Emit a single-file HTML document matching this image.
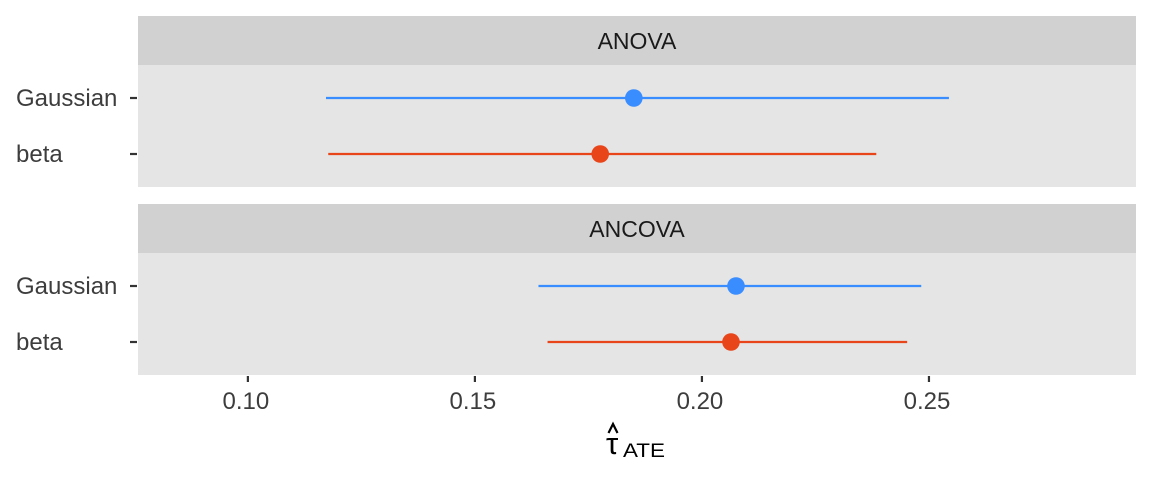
<!DOCTYPE html>
<html><head><meta charset="utf-8"><style>
body{margin:0;background:#fff;}
svg text{font-family:"Liberation Sans",sans-serif;}
</style></head><body>
<svg id="chart" width="1152" height="480" xmlns="http://www.w3.org/2000/svg"></svg>
<script>
const panels = ["ANOVA","ANCOVA"];
const models = ["Gaussian","beta"];
const estimates = [[0.185,0.1776],[0.2075,0.2064]];
const lowers = [[0.1172,0.1177],[0.164,0.166]];
const uppers = [[0.2544,0.2384],[0.2483,0.2452]];
const xTicks = [0.10,0.15,0.20,0.25];
const xTickLabels = ["0.10","0.15","0.20","0.25"];
const colors = ["#3A8DFF","#E8461A"];

const svg = document.getElementById('chart');
const NS = "http://www.w3.org/2000/svg";
const x0 = 138, x1 = 1136, dMin = 0.0758, dMax = 0.2956;
const xs = v => x0 + (v - dMin) / (dMax - dMin) * (x1 - x0);
const panelTop = [16, 204];
function mk(tag, attrs, parent){const e=document.createElementNS(NS,tag);for(const k in attrs)e.setAttribute(k,attrs[k]);(parent||svg).appendChild(e);return e;}

panels.forEach((p,pi)=>{
  const t = panelTop[pi];
  const g = mk('g',{});
  
  
  const strip = mk('rect',{x:x0,y:t,width:x1-x0,height:49,fill:"#D1D1D1"},g);
  
  
  const st = mk('text',{x:(x0+x1)/2,y:t+33,'text-anchor':'middle','font-size':23,fill:"#1A1A1A"},g);
  st.textContent = p;
  
  
  const bg = mk('rect',{x:x0,y:t+49,width:x1-x0,height:122,fill:"#E5E5E5"},g);
  
  
  const rowY = [t+49+33, t+49+89];
  models.forEach((m,mi)=>{
    const y = rowY[mi];
    mk('line',{x1:130,x2:137,y1:y,y2:y,stroke:"#333",'stroke-width':2.2},g);
    const lab = mk('text',{x:16,y:y+8,'text-anchor':'start','font-size':24,fill:"#3D3D3D"},g);
    lab.textContent = m;
    
    
    const ci = mk('line',{x1:xs(lowers[pi][mi]),x2:xs(uppers[pi][mi]),y1:y,y2:y,stroke:colors[mi],'stroke-width':2.2},g);
    
    
    const pt = mk('circle',{cx:xs(estimates[pi][mi]),cy:y,r:8.8,fill:colors[mi]},g);
    
    
  });
});
xTicks.forEach((v,i)=>{
  mk('line',{x1:xs(v),x2:xs(v),y1:376,y2:382,stroke:"#333",'stroke-width':2.2});
  const tl = mk('text',{x:xs(v)-2,y:409,'text-anchor':'middle','font-size':24,fill:"#3D3D3D"});
  tl.textContent = xTickLabels[i];
  
  
});
</script>
<svg width="1152" height="480" style="position:absolute;left:0;top:0" xmlns="http://www.w3.org/2000/svg">
<g>
<text x="606" y="454" font-size="31" fill="#000" font-family="DejaVu Sans, sans-serif">τ</text>
<polyline points="608.5,433 613,424 617.5,433" fill="none" stroke="#000" stroke-width="2.2"/>
<text x="623" y="457" font-size="19" fill="#000" font-family="Liberation Sans, sans-serif" textLength="42" lengthAdjust="spacingAndGlyphs">ATE</text>
</g>
</svg>
</body></html>
